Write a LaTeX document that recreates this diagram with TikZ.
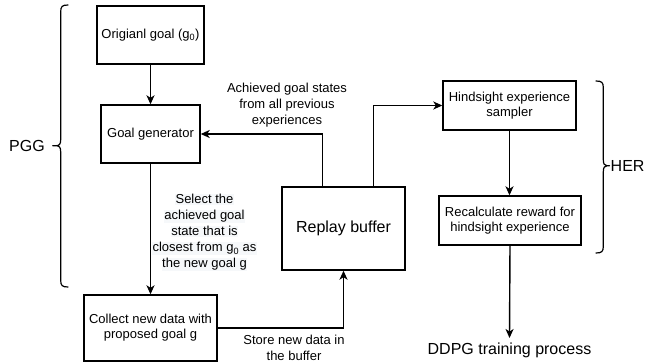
\documentclass[tikz,border=0pt]{standalone}
\usepackage{fontspec}
\setmainfont{Liberation Sans}
\usetikzlibrary{arrows.meta}
\definecolor{lblbg}{RGB}{246,248,250}
\newcommand{\lbl}[1]{\colorbox{lblbg}{#1}}
\begin{document}
\begin{tikzpicture}[x=1pt,y=-1pt,
  box/.style={draw, line width=1.4pt, inner sep=2pt, align=center,
    font=\fontsize{13}{15}\selectfont},
  arr/.style={line width=1.4pt, -{Stealth[length=9pt,width=8pt,inset=2.5pt]}},
  brace/.style={line width=1.2pt, line cap=round, line join=round},
  note/.style={align=center, inner sep=0pt, font=\fontsize{13}{16}\selectfont},
  big/.style={inner sep=0pt, font=\fontsize{16}{19}\selectfont}]
\useasboundingbox (0,0) rectangle (646,362);
\setlength{\fboxsep}{0.6pt}

% process boxes
\node[box, minimum width=107pt, minimum height=58pt] (orig) at (150.5,35) {Origianl goal (g\textsubscript{0})};
\node[box, minimum width=99pt, minimum height=58pt] (gen) at (150.5,134) {Goal generator};
\node[box, minimum width=133pt, minimum height=66pt] (collect) at (150.5,328) {Collect new data with\\proposed goal g};
\node[box, minimum width=123pt, minimum height=83pt, font=\fontsize{16}{19}\selectfont] (replay) at (343.5,228.5) {Replay buffer};
\node[box, minimum width=133pt, minimum height=49pt] (hind) at (509.5,105.5) {Hindsight experience\\sampler};
\node[box, minimum width=142pt, minimum height=49pt] (recalc) at (510,220.5) {Recalculate reward for\\hindsight experience};
\node[big, anchor=north] (ddpg) at (509.5,343) {DDPG training process};

% connectors
\draw[arr] (orig.south) -- (gen.north);
\draw[arr] (gen.south) -- (collect.north);
\draw[arr] ([xshift=41pt]replay.north west) |- (gen.east);
\draw[arr] (collect.east) -| (replay.south);
\draw[arr] ([xshift=92pt]replay.north west) |- (hind.west);
\draw[arr] (hind.south) -- (hind.south |- recalc.north);
\draw[arr] (recalc.south) -- ([yshift=5pt]ddpg.north);

% connector labels
\node[note] (lachieved) at (287,105) {Achieved goal states\\from all previous\\experiences};
\node[note] (lselect) at (204.5,232.5) {\lbl{Select the}\\\lbl{achieved goal}\\\lbl{state that is}\\\lbl{closest from g\textsubscript{0} as}\\\lbl{the new goal g}};
\node[note] (lstore) at (294,348) {Store new data in\\the buffer};

% group braces
\draw[brace] (68,5) .. controls (62,5) and (60.7,6.5) .. (60.7,12)
  -- (60.7,139.5) .. controls (60.7,144) and (59.5,145.7) .. (56,145.7) -- (52.7,145.7)
  (56,145.7) .. controls (59.5,145.7) and (60.7,147.5) .. (60.7,152)
  -- (60.7,280) .. controls (60.7,285.5) and (62,287) .. (68,287);
\draw[brace] (596,81) .. controls (602,81) and (603.3,82.5) .. (603.3,88)
  -- (603.3,159.5) .. controls (603.3,164) and (604.5,165.7) .. (607,165.7) -- (609.5,165.7)
  (607,165.7) .. controls (604.5,165.7) and (603.3,167.5) .. (603.3,172)
  -- (603.3,246) .. controls (603.3,251.5) and (602,253) .. (596,253);
\node[big, anchor=east] (pgg) at (45,146) {PGG};
\node[big, anchor=west] (her) at (610.5,166) {HER};
\end{tikzpicture}
\end{document}
